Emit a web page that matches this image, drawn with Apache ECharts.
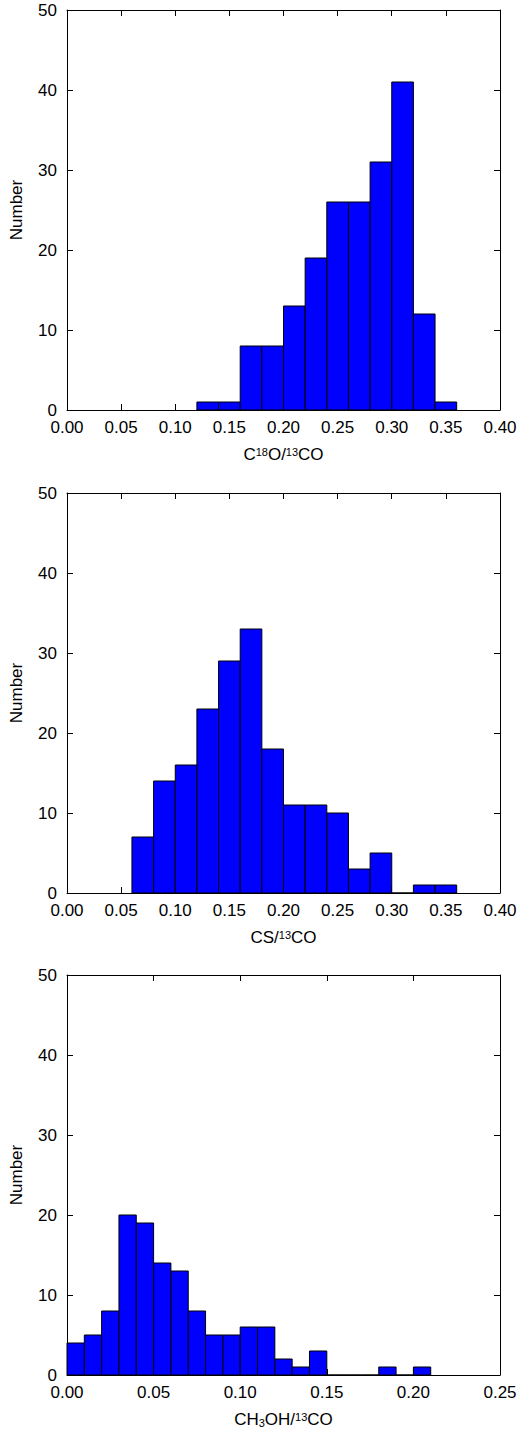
<!DOCTYPE html>
<html><head><meta charset="utf-8">
<script src="https://cdn.jsdelivr.net/npm/echarts@6/dist/echarts.min.js"></script>
<style>body{margin:0;background:#fff}#c{width:520px;height:1434px}</style>
</head><body><div id="c"></div>
<script>
// bin left edges and counts for each panel
const bins1 = [0.12,0.14,0.16,0.18,0.20,0.22,0.24,0.26,0.28,0.30,0.32,0.34];
const counts1 = [1,1,8,8,13,19,26,26,31,41,12,1];
const bins2 = [0.06,0.08,0.10,0.12,0.14,0.16,0.18,0.20,0.22,0.24,0.26,0.28,0.30,0.32,0.34];
const counts2 = [7,14,16,23,29,33,18,11,11,10,3,5,0,1,1];
const bins3 = [0.00,0.01,0.02,0.03,0.04,0.05,0.06,0.07,0.08,0.09,0.10,0.11,0.12,0.13,0.14,0.15,0.16,0.17,0.18,0.19,0.20];
const counts3 = [4,5,8,20,19,14,13,8,5,5,6,6,2,1,3,0,0,0,1,0,1];
const binWidths = [0.02, 0.02, 0.01];
const xMax = [0.40, 0.40, 0.25];
const xIntervals = [0.05, 0.05, 0.05];
const xNames = ['C{s|18}O/{s|13}CO', 'CS/{s|13}CO', 'CH{b|3}OH/{s|13}CO'];

const font = '"Liberation Sans", Arial, sans-serif';
const tops = [10, 493, 975];
const panels = [[bins1, counts1], [bins2, counts2], [bins3, counts3]];
const grid = [], xAxis = [], yAxis = [], series = [];
panels.forEach(([bins, counts], i) => {
  grid.push({left: 62, width: 438, top: tops[i], height: 400});
  const common = {min: 0, axisLine: {show: true, onZero: false, lineStyle: {color: '#000', width: 1}},
    splitLine: {show: false}, axisTick: {inside: true, length: 6, lineStyle: {color: '#000'}}};
  xAxis.push(Object.assign({type: 'value', gridIndex: i, max: xMax[i], interval: xIntervals[i],
    axisLabel: {color: '#000', fontFamily: font, fontSize: 17, formatter: v => v.toFixed(2), margin: 9},
    name: xNames[i], nameLocation: 'middle', nameGap: 36,
    nameTextStyle: {color: '#000', fontFamily: font, fontSize: 17,
      rich: {s: {fontSize: 11, verticalAlign: 'top', padding: [0,0,6,0], fontFamily: font, color: '#000'},
             b: {fontSize: 11, verticalAlign: 'bottom', padding: [6,0,0,0], fontFamily: font, color: '#000'}}}}, common));
  xAxis.push(Object.assign({type: 'value', gridIndex: i, position: 'top', max: xMax[i], interval: xIntervals[i],
    axisLabel: {show: false}}, common));
  yAxis.push(Object.assign({type: 'value', gridIndex: i, max: 50, interval: 10,
    axisLabel: {color: '#000', fontFamily: font, fontSize: 17, margin: 10},
    name: 'Number', nameLocation: 'middle', nameGap: 42,
    nameTextStyle: {color: '#000', fontFamily: font, fontSize: 17}}, common));
  yAxis.push(Object.assign({type: 'value', gridIndex: i, position: 'right', max: 50, interval: 10,
    axisLabel: {show: false}}, common));
  const w = binWidths[i];
  series.push({type: 'custom', xAxisIndex: 2 * i, yAxisIndex: 2 * i,
    data: bins.map((b, k) => [b, counts[k]]),
    renderItem: (params, api) => {
      const p0 = api.coord([api.value(0), 0]);
      const p1 = api.coord([api.value(0) + w, api.value(1)]);
      return {type: 'rect', shape: {x: p0[0], y: p1[1], width: p1[0] - p0[0], height: p0[1] - p1[1]},
        style: {fill: '#0000ff', stroke: '#000', lineWidth: 1}};
    }});
});
const chart = echarts.init(document.getElementById('c'), null, {renderer: 'svg'});
chart.setOption({animation: false, grid, xAxis, yAxis, series});
</script></body></html>
